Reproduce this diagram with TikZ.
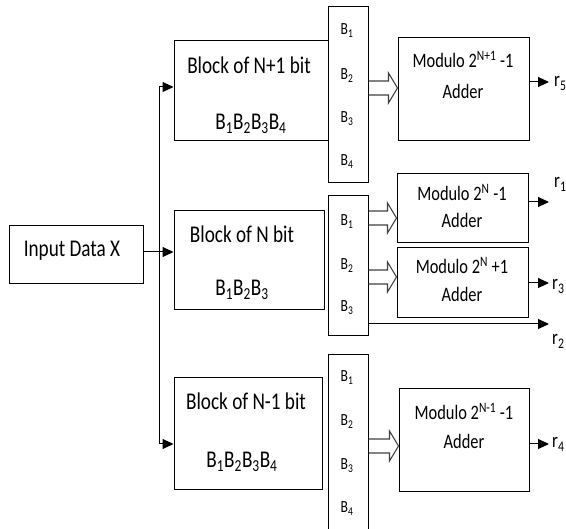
\documentclass[tikz,border=0pt]{standalone}
\usepackage{fontspec}
\setmainfont{Carlito}[FakeStretch=0.8]
\usetikzlibrary{arrows.meta,positioning,calc}

% open "fat" arrow from the bit column to an adder, at height #3
\newcommand{\hollowarrow}[3]{%
  \draw[hollow] (#1.east |- 0,#3-7) -- ($(#2.west |- 0,#3)+(-9,-7)$)
    -- ($(#2.west |- 0,#3)+(-9,-15)$) -- (#2.west |- 0,#3)
    -- ($(#2.west |- 0,#3)+(-9,15)$) -- ($(#2.west |- 0,#3)+(-9,7)$)
    -- (#1.east |- 0,#3+7);
}

\begin{document}
\begin{tikzpicture}[x=1pt,y=-1pt,
    box/.style={draw, line width=1pt, inner sep=0pt},
    arr/.style={-{Triangle[length=11pt,width=10pt]}, line width=1pt},
    hollow/.style={draw=black!75, line width=1.1pt},
    big/.style={font=\fontsize{24}{26}\selectfont},
    mid/.style={font=\fontsize{20.5}{22}\selectfont},
    small/.style={font=\fontsize{17}{18}\selectfont},
    rlbl/.style={font=\fontsize{21}{22}\selectfont, anchor=base west, inner sep=0pt},
    txt/.style={anchor=base, inner sep=0pt}]
    \clip (0,0) rectangle (566,529);

    \node[box, minimum width=134pt, minimum height=58pt] (inp) at (76,255) {};
    \node[txt, big] (inptext) at (72,257) {Input Data X};

    % blocks
    \node[box, minimum width=154pt, minimum height=100pt] (blkA) at (251,91) {};
    \node[box, minimum width=150pt, minimum height=99pt] (blkB) at (249,260.5) {};
    \node[box, minimum width=148pt, minimum height=112pt] (blkC) at (248,434) {};
    \node[txt, big] (blkAname) at (249,74) {Block of N+1 bit};
    \node[txt, big] (blkAbits) at (251,130) {B\textsubscript{1}B\textsubscript{2}B\textsubscript{3}B\textsubscript{4}};
    \node[txt, big] (blkBname) at (242,243) {Block of N bit};
    \node[txt, big] (blkBbits) at (242,296) {B\textsubscript{1}B\textsubscript{2}B\textsubscript{3}};
    \node[txt, big] (blkCname) at (246,410) {Block of N-1 bit};
    \node[txt, big] (blkCbits) at (242,468) {B\textsubscript{1}B\textsubscript{2}B\textsubscript{3}B\textsubscript{4}};

    % bit columns
    \node[box, minimum width=40pt, minimum height=176pt] (colA) at (348,95) {};
    \node[box, minimum width=40pt, minimum height=140pt] (colB) at (348,266) {};
    \node[box, minimum width=40pt, minimum height=205pt] (colC) at (348,457.5) {};
    \foreach \i/\y in {1/35,2/80,3/123,4/166}
        \node[txt, small] (colAb\i) at (347,\y) {B\textsubscript{\i}};
    \foreach \i/\y in {1/226,2/270,3/312}
        \node[txt, small] (colBb\i) at (347,\y) {B\textsubscript{\i}};
    \foreach \i/\y in {1/382,2/426,3/470,4/513}
        \node[txt, small] (colCb\i) at (347,\y) {B\textsubscript{\i}};

    % adders
    \node[box, minimum width=131pt, minimum height=103pt] (modA) at (463.5,89.5) {};
    \node[box, minimum width=131pt, minimum height=69pt] (modB) at (462.5,208.5) {};
    \node[box, minimum width=131pt, minimum height=70pt] (modC) at (462.5,283) {};
    \node[box, minimum width=130pt, minimum height=103pt] (modD) at (464,440.5) {};
    \node[txt, mid] (modAname) at (463,68) {Modulo 2\textsuperscript{N+1} -1};
    \node[txt, mid] (modAadd) at (463,99) {Adder};
    \node[txt, mid] (modBname) at (462,201) {Modulo 2\textsuperscript{N} -1};
    \node[txt, mid] (modBadd) at (462,228) {Adder};
    \node[txt, mid] (modCname) at (462,274) {Modulo 2\textsuperscript{N} +1};
    \node[txt, mid] (modCadd) at (462,302) {Adder};
    \node[txt, mid] (modDname) at (464,420) {Modulo 2\textsuperscript{N-1} -1};
    \node[txt, mid] (modDadd) at (464,449) {Adder};

    % outputs
    \coordinate (outA) at (549,82);
    \coordinate (outB) at (549,202);
    \coordinate (outC) at (549,283);
    \coordinate (outD) at (549,324);
    \coordinate (outE) at (549,444);
    \node[rlbl] (r5) at (554,87) {r\textsubscript{5}};
    \node[rlbl] (r1) at (554,188) {r\textsubscript{1}};
    \node[rlbl] (r3) at (552,290) {r\textsubscript{3}};
    \node[rlbl] (r2) at (552,345) {r\textsubscript{2}};
    \node[rlbl] (r4) at (552,448) {r\textsubscript{4}};

    % fan out of the input
    \coordinate (fork) at (159,252);
    \draw[arr] (inp.east |- fork) -- (blkB.west |- fork);
    \draw[arr] (fork) |- (blkA.west |- 0,87);
    \draw[arr] (fork) |- (blkC.west |- 0,444);

    \hollowarrow{colA}{modA}{88}
    \hollowarrow{colB}{modB}{218}
    \hollowarrow{colB}{modC}{277}
    \hollowarrow{colC}{modD}{446}

    \draw[arr] (modA.east |- outA) -- (outA);
    \draw[arr] (modB.east |- outB) -- (outB);
    \draw[arr] (modC.east |- outC) -- (outC);
    \draw[arr] (colB.east |- outD) -- (outD);
    \draw[arr] (modD.east |- outE) -- (outE);
\end{tikzpicture}
\end{document}
